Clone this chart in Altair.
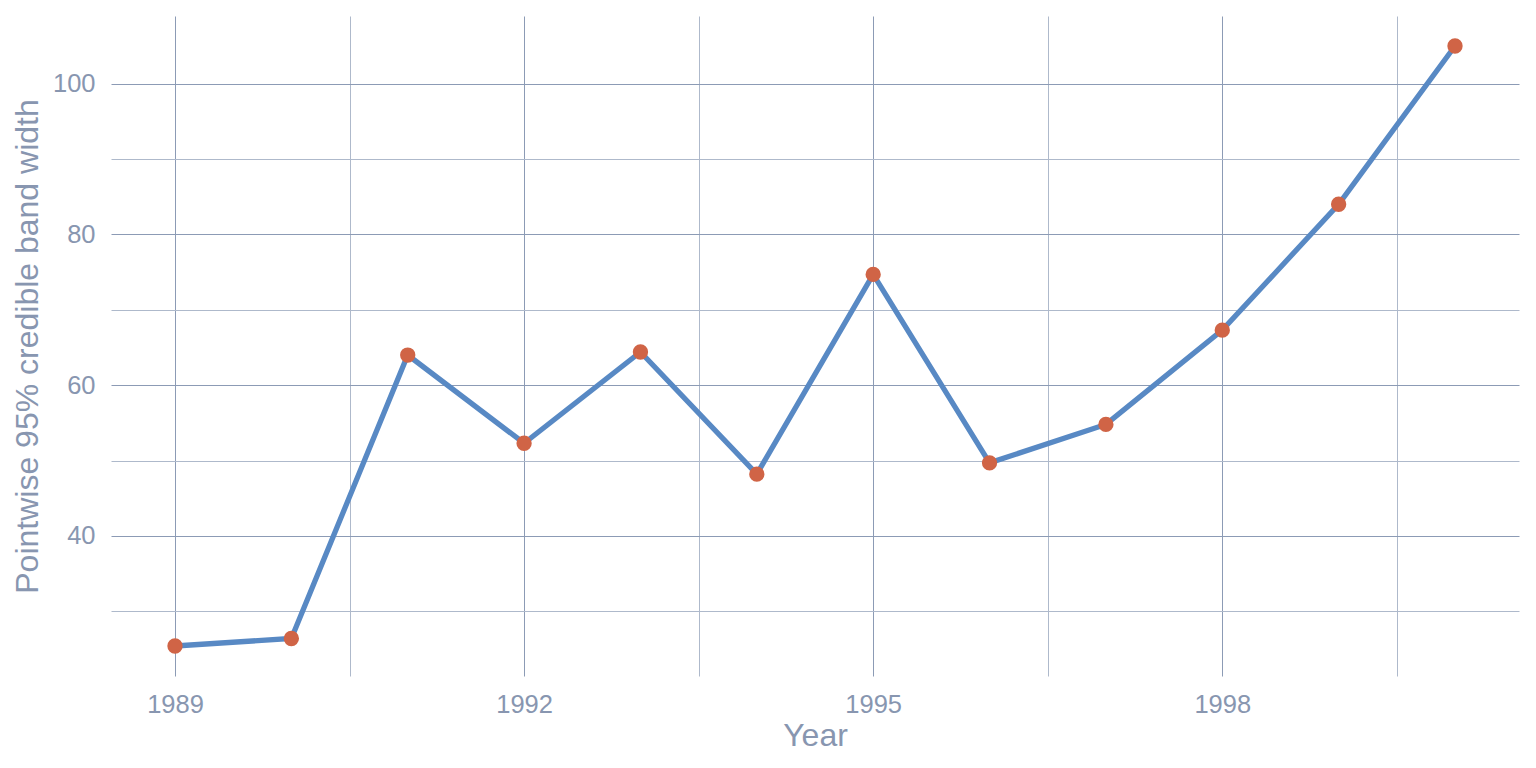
import altair as alt
import pandas as pd

years = [1989, 1990, 1991, 1992, 1993, 1994, 1995, 1996, 1997, 1998, 1999, 2000]
widths = [25.4, 26.4, 64.0, 52.3, 64.4, 48.2, 74.7, 49.7, 54.8, 67.3, 84.0, 105.0]

x_grid = [1989, 1990.5, 1992, 1993.5, 1995, 1996.5, 1998, 1999.5]
y_grid = [30, 40, 50, 60, 70, 80, 90, 100]

df = pd.DataFrame({"Year": years, "Width": widths})

text_color = "#8896b0"
major_grid = "#8c9bb5"
minor_grid = "#aeb9cb"
font = "Liberation Sans"

x_enc = alt.X(
    "Year:Q",
    scale=alt.Scale(domain=[1988.45, 2000.55], nice=False, zero=False),
    axis=alt.Axis(
        title="Year",
        values=x_grid,
        labelExpr="datum.value == floor(datum.value) && (datum.value - 1989) % 3 == 0 ? datum.value : ''",
        format="d",
        grid=True,
        gridColor={"condition": {"test": "datum.value == floor(datum.value)", "value": major_grid}, "value": minor_grid},
        ticks=False,
        domain=False,
        labelPadding=16,
        titlePadding=3,
        labelFontSize=25.5,
        titleFontSize=32,
        titleFontWeight="normal",
        labelColor=text_color,
        titleColor=text_color,
        labelFont=font,
        titleFont=font,
    ),
)
y_enc = alt.Y(
    "Width:Q",
    scale=alt.Scale(domain=[21.42, 108.98], nice=False, zero=False),
    axis=alt.Axis(
        title="Pointwise 95% credible band width",
        values=y_grid,
        labelExpr="datum.value % 20 == 0 ? datum.value : ''",
        grid=True,
        gridColor={"condition": {"test": "datum.value % 20 == 0", "value": major_grid}, "value": minor_grid},
        ticks=False,
        domain=False,
        labelPadding=16,
        titlePadding=8,
        labelFontSize=25.5,
        titleFontSize=32,
        titleFontWeight="normal",
        labelColor=text_color,
        titleColor=text_color,
        labelFont=font,
        titleFont=font,
    ),
)

line = alt.Chart(df).mark_line(color="#5889c4", strokeWidth=5.3).encode(x=x_enc, y=y_enc)
points = alt.Chart(df).mark_circle(color="#d06446", opacity=1, size=235).encode(x="Year:Q", y="Width:Q")

chart = (
    alt.layer(line, points)
    .properties(
        width=1408,
        height=660,
        autosize=alt.AutoSizeParams(type="none"),
        padding={"left": 103, "top": 8, "right": 9, "bottom": 84},
    )
    .configure(background="white")
    .configure_view(stroke="transparent", strokeWidth=0)
)

chart.save("out.html", embed_options={"renderer": "svg", "actions": False})
